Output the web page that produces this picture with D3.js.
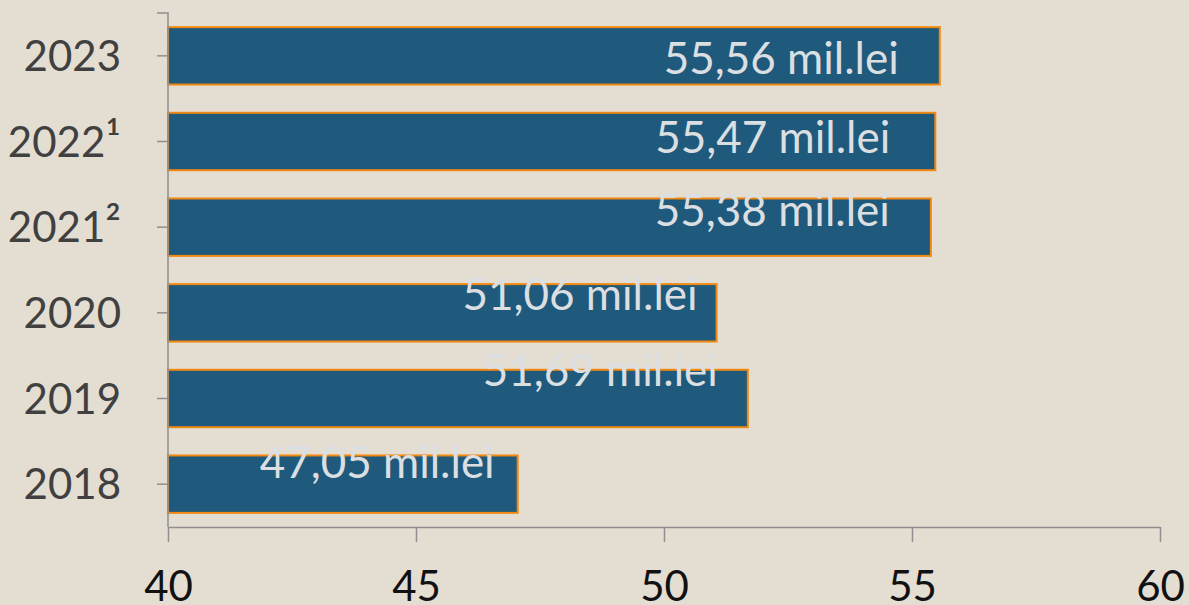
<!DOCTYPE html>
<html>
<head>
<meta charset="utf-8">
<script src="https://cdn.jsdelivr.net/npm/d3@7"></script>
<style>
  html, body { margin: 0; padding: 0; background: #e4ddd2; }
  svg { display: block; }
  text { font-family: Lato, "Open Sans", sans-serif; }
</style>
</head>
<body>
<svg id="chart"></svg>
<script>
const width = 1189;
const height = 605;

// data
const years = ["2023", "2022¹", "2021²", "2020", "2019", "2018"];
const values = [55.56, 55.47, 55.38, 51.06, 51.69, 47.05];
const valueLabels = ["55,56 mil.lei", "55,47 mil.lei", "55,38 mil.lei", "51,06 mil.lei", "51,69 mil.lei", "47,05 mil.lei"];
const xTicks = [40, 45, 50, 55, 60];

// labels were placed by hand in the original, keep their nudges (dx from bar end, dy from bar centre)
const labelNudge = [[-41, 18], [-45, 11], [-41, -1], [-19, -3], [-30, -13], [-23, -6]];

const svg = d3.select("#chart")
    .attr("width", width)
    .attr("height", height);

const x = d3.scaleLinear()
    .domain([40, 60])
    .range([168, 1160]);

const y = d3.scaleBand()
    .domain(years)
    .range([13, 527])
    .paddingInner(0.33)
    .paddingOuter(0.165);

const data = years.map((year, i) => ({ year, value: values[i], label: valueLabels[i], nudge: labelNudge[i] }));

// bars
svg.append("g")
    .selectAll("rect")
    .data(data)
    .enter().append("rect")
    .attr("x", x(40))
    .attr("y", d => y(d.year))
    .attr("width", d => x(d.value) - x(40))
    .attr("height", y.bandwidth())
    .attr("fill", "#1f5a7c")
    .attr("stroke", "#f2880f")
    .attr("stroke-width", 2);

// bottom axis
const xAxis = svg.append("g")
    .attr("transform", "translate(0,527)")
    .call(d3.axisBottom(x).tickValues(xTicks).tickSize(15).tickSizeOuter(0).tickPadding(29));
xAxis.selectAll("line, path").attr("stroke", "#8f8f8f").attr("stroke-width", 1.5);
xAxis.selectAll("text")
    .attr("font-family", "Lato, 'Open Sans', sans-serif")
    .attr("font-size", 42)
    .attr("fill", "#111")
    .attr("dy", "0.71em");

// left axis
const yAxis = svg.append("g")
    .attr("transform", "translate(168,0)")
    .call(d3.axisLeft(y).tickSize(11).tickSizeOuter(0).tickPadding(36));
yAxis.select(".domain").attr("d", "M-11,13H0V527");
yAxis.selectAll("line, path").attr("stroke", "#8f8f8f").attr("stroke-width", 1.5);
yAxis.selectAll("text")
    .attr("font-family", "Lato, 'Open Sans', sans-serif")
    .attr("font-size", 42)
    .attr("fill", "#404040")
    .attr("dy", "0.36em")
    .each(function(d) {
        // make the footnote marks a bit bigger, like the original
        const m = d.match(/^(\d+)([¹²])$/);
        if (!m) return;
        const t = d3.select(this).text(m[1]);
        t.append("tspan").attr("font-size", 47).text(m[2]);
    });

// value labels
svg.append("g")
    .selectAll("text")
    .data(data)
    .enter().append("text")
    .attr("x", d => x(d.value) + d.nudge[0])
    .attr("y", d => y(d.year) + y.bandwidth() / 2 + d.nudge[1])
    .attr("text-anchor", "end")
    .attr("font-size", 44)
    .attr("fill", "#dcdfe2")
    .text(d => d.label);
</script>
</body>
</html>
